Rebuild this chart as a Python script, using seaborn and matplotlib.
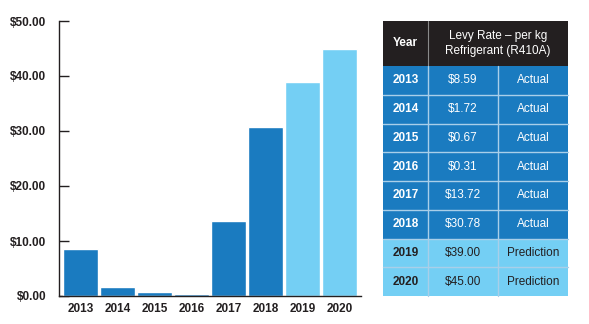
import matplotlib
matplotlib.use("Agg")
import matplotlib.pyplot as plt
from matplotlib.patches import Rectangle
import seaborn as sns
import pandas as pd

years = ["2013", "2014", "2015", "2016", "2017", "2018", "2019", "2020"]
levy = [8.59, 1.72, 0.67, 0.31, 13.72, 30.78, 39.00, 45.00]
status = ["Actual", "Actual", "Actual", "Actual", "Actual", "Actual", "Prediction", "Prediction"]
yticks = [0, 10, 20, 30, 40, 50]
ytick_labels = ["$0.00", "$10.00", "$20.00", "$30.00", "$40.00", "$50.00"]
header_year = "Year"
header_rate = "Levy Rate \u2013 per kg\nRefrigerant (R410A)"

DARK = "#1a7bc0"
LIGHT = "#74cff4"
HEAD = "#231f20"
palette = {"Actual": DARK, "Prediction": LIGHT}

sns.set_style("white")
plt.rcParams["font.family"] = ["Liberation Sans", "DejaVu Sans"]
plt.rcParams["font.weight"] = "bold"

df = pd.DataFrame({"year": years, "levy": levy, "status": status})

fig = plt.figure(figsize=(5.89, 3.24), dpi=100)
W, H = 589, 324

# bar chart
ax = fig.add_axes([59 / W, 1 - 296 / H, (361 - 59) / W, (296 - 21) / H])
sns.barplot(data=df, x="year", y="levy", hue="status", palette=palette,
            dodge=False, width=0.95, legend=False, ax=ax, saturation=1)
ax.set_xlim(-0.585, 7.585)
ax.set_ylim(0, 50)
ax.set_yticks(yticks)
ax.set_yticklabels(ytick_labels)
ax.set_xlabel("")
ax.set_ylabel("")
for s in ["top", "right"]:
    ax.spines[s].set_visible(False)
for s in ["left", "bottom"]:
    ax.spines[s].set_color("#231f20")
    ax.spines[s].set_linewidth(1.0)
ax.tick_params(axis="y", left=True, direction="in", length=7, width=1,
               color="#231f20", labelsize=8.5, pad=9)
ax.tick_params(axis="x", bottom=False, length=0, labelsize=8.5, pad=5)
for lab in ax.get_xticklabels() + ax.get_yticklabels():
    lab.set_fontweight("bold")
    lab.set_color("#231f20")

# levy table
tx = fig.add_axes([0, 0, 1, 1])
tx.set_xlim(0, W)
tx.set_ylim(H, 0)
tx.axis("off")

left, c1, c2, right = 383, 428, 498, 568
top, head_bot, bottom = 21, 66, 296
row_h = (bottom - head_bot) / len(years)
grid = "#a9cfe9"
fs = 8.5

tx.add_patch(Rectangle((left, top), right - left, head_bot - top,
                       facecolor=HEAD, edgecolor="none"))
tx.plot([c1, c1], [top, head_bot], color="#8a8a8a", lw=0.8)
tx.text((left + c1) / 2, (top + head_bot) / 2, header_year, color="white",
        ha="center", va="center", fontsize=fs, fontweight="bold")
tx.text((c1 + right) / 2, (top + head_bot) / 2, header_rate, color="white",
        ha="center", va="center", fontsize=fs, fontweight="normal",
        linespacing=1.35)

for i, (yr, v, st) in enumerate(zip(years, levy, status)):
    y0 = head_bot + i * row_h
    color = palette[st]
    txt = "white" if st == "Actual" else "#231f20"
    tx.add_patch(Rectangle((left, y0), right - left, row_h,
                           facecolor=color, edgecolor="none"))
    yc = y0 + row_h / 2
    tx.text((left + c1) / 2, yc, yr, color=txt, ha="center", va="center",
            fontsize=fs, fontweight="bold")
    tx.text((c1 + c2) / 2, yc, f"${v:.2f}", color=txt, ha="center",
            va="center", fontsize=fs, fontweight="normal")
    tx.text((c2 + right) / 2, yc, st, color=txt, ha="center", va="center",
            fontsize=fs, fontweight="normal")

for i in range(1, len(years)):
    y = head_bot + i * row_h
    tx.plot([left, right], [y, y], color=grid, lw=1.0)
for x in (c1, c2):
    tx.plot([x, x], [head_bot, bottom], color=grid, lw=1.0)

fig.savefig("out.png", dpi=100)
